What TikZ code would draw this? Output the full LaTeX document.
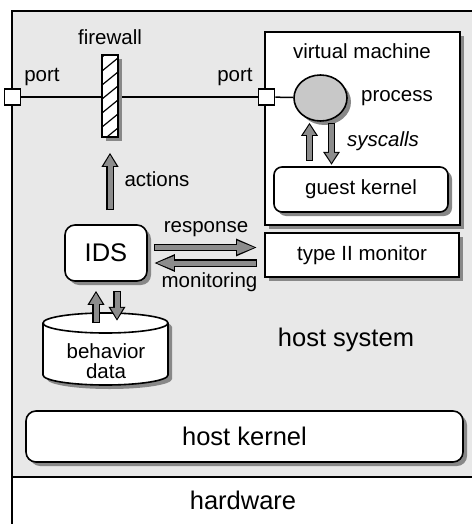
\documentclass[tikz,border=0pt]{standalone}
\usepackage{fontspec}
\setmainfont{Liberation Sans}
\usepackage{tikz}
\usetikzlibrary{
  positioning,
  calc,
  shapes.geometric,
  shadows,
  arrows.meta
}
\definecolor{hostgray}{RGB}{232,232,232}
\definecolor{shadegray}{RGB}{136,136,136}
\definecolor{arrowgray}{RGB}{140,140,140}
\definecolor{procgray}{RGB}{200,200,200}

% fat grey arrow with black outline: from, to, head length, inner head length
\newcommand{\fatarrow}[4]{%
  \draw[line width=7.5pt, -{Triangle[length=#3pt, width=16pt]}] #1 -- #2;
  \draw[arrowgray, line width=5pt, shorten <=1.3pt, shorten >=2pt,
        -{Triangle[length=#4pt, width=12pt]}] #1 -- #2;
}

\begin{document}
\begin{tikzpicture}[x=1pt, y=-1pt,
    lbl/.style={font=\fontsize{20.5}{20}\selectfont},
    biglbl/.style={font=\fontsize{25.5}{30}\selectfont},
    shadowed/.style={drop shadow={shadow xshift=4pt, shadow yshift=-4pt,
                     fill=shadegray, opacity=1}},
    box/.style={draw, line width=1.6pt, fill=white, inner sep=0pt},
    portbox/.style={box, minimum width=16pt, minimum height=16pt},
    fwbox/.style={box, shadowed, minimum width=16pt, minimum height=82pt,
      path picture={
        \foreach \k in {0,...,6}
          \draw[line width=1.2pt]
            ($(path picture bounding box.south west)+(0,-\k*14+4)$) -- ++(16,-13);
      }},
    roundbox/.style={box, shadowed, rounded corners=9pt}
  ]
    \useasboundingbox (0,0) rectangle (471,524);

    % host system and hardware
    \fill[hostgray] (12,11) rectangle (480,477);
    \draw[line width=1.5pt] (480,11) -- (12,11) -- (12,530);
    \draw[line width=1.5pt] (12,477) -- (480,477);

    % virtual machine
    \node[box, shadowed, minimum width=195pt, minimum height=193pt] (vm) at (362.5,128.5) {};
    \node[lbl, anchor=base] (vmlbl) at (362,59) {virtual machine};

    \node[portbox] (lport) at (12.5,97) {};
    \node[portbox] (vport) at (266.5,97) {};
    \draw[line width=1.5pt] (lport) -- (vport);

    \node[fwbox] (fw) at (110,96) {};
    \node[lbl, anchor=base] (fwlbl) at (110,45) {firewall};
    \node[lbl, anchor=base] (lportlbl) at (42,82) {port};
    \node[lbl, anchor=base] (vportlbl) at (235,82) {port};

    \node[ellipse, draw, line width=1.6pt, fill=procgray, shadowed,
          minimum width=53pt, minimum height=46pt, inner sep=0pt] (proc) at (320.5,98) {};
    \draw[line width=1.5pt] (vport) -- (proc);
    \node[lbl, anchor=base] (proclbl) at (397,102) {process};

    \node[roundbox, rounded corners=8pt, minimum width=174pt, minimum height=45pt, lbl]
      (gk) at (361,189.5) {guest kernel};
    \node[lbl, anchor=base] (sclbl) at (383,146) {\itshape syscalls};

    \fatarrow{($(proc.south)+(-11,39)$)}{($(proc.south)+(-11,1)$)}{13}{10}
    \fatarrow{($(proc.south)+(11,1)$)}{($(proc.south)+(11,43)$)}{13}{10}

    % monitor and IDS
    \node[box, shadowed, minimum width=194pt, minimum height=44pt, lbl]
      (mon) at (362,255) {type II monitor};
    \node[roundbox, rounded corners=10pt, minimum width=82pt, minimum height=56pt, biglbl]
      (ids) at (106,253) {IDS};

    \fatarrow{($(ids.north -| fw.south)+(0,-14)$)}{($(fw.south)+(0,15)$)}{14}{11}
    \node[lbl, anchor=base] (actlbl) at (157,186) {actions};

    \fatarrow{($(ids.east)+(6,-5.5)$)}{($(ids.east -| mon.west)+(-7,-5.5)$)}{21}{18}
    \fatarrow{($(ids.east -| mon.west)+(-7,10)$)}{($(ids.east)+(6,10)$)}{21}{18}
    \node[lbl, anchor=base] (resplbl) at (206,232) {response};
    \node[lbl, anchor=base] (monlbl) at (209.5,287) {monitoring};

    % behavior data store
    \draw[line width=1.6pt, fill=white, shadowed]
      (43,323) -- (43,375) arc[start angle=180, end angle=360, x radius=62.5pt, y radius=10pt]
      -- (168,323) arc[start angle=0, end angle=180, x radius=62.5pt, y radius=10pt] -- cycle;
    \draw[line width=1.6pt]
      (43,323) arc[start angle=180, end angle=360, x radius=62.5pt, y radius=10pt];
    \node[lbl, align=center] (bd) at (106,361) {behavior\\data};

    \fatarrow{($(ids.south)+(-10,41)$)}{($(ids.south)+(-10,9)$)}{14}{11}
    \fatarrow{($(ids.south)+(11,9)$)}{($(ids.south)+(11,39)$)}{14}{11}

    \node[biglbl] (hslbl) at (346,340) {host system};

    \node[roundbox, rounded corners=10pt, minimum width=437pt, minimum height=51pt, biglbl]
      (hk) at (244.5,436.5) {host kernel};
    \node[biglbl] (hwlbl) at (243,500) {hardware};
\end{tikzpicture}
\end{document}
